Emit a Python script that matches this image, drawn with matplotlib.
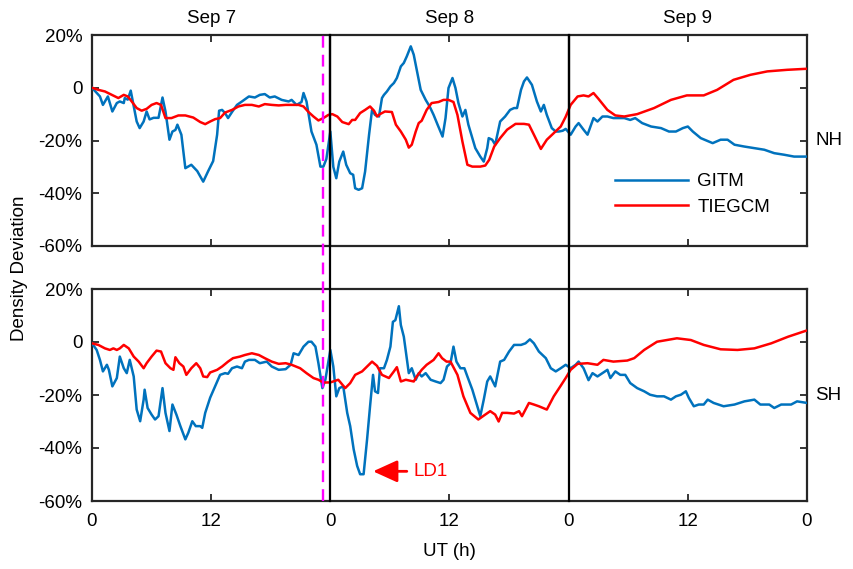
import numpy as np
import matplotlib
matplotlib.use('Agg')
import matplotlib.pyplot as plt
from matplotlib.transforms import blended_transform_factory

# datos: (UT en horas desde Sep 7 00 UT, desviacion en %)
nh_gitm = np.array([
    (0, 0), (0.8, -3.3), (1.1, -6.5), (1.6, -3.3), (2.05, -9), (2.5, -5.8), (2.8, -5.2), (3.2, -5.8),
    (3.3, -3.9), (3.6, -4.5), (3.9, -1.1), (4.1, -5), (4.5, -12.8), (4.8, -15.3), (5.2, -12.8), (5.5, -9),
    (5.8, -12), (6.2, -11.4), (6.7, -11.4), (7.1, -3.7), (7.4, -9), (7.8, -19.7), (8.1, -16.6), (8.4, -16),
    (8.6, -14), (9.0, -17.8), (9.4, -30.5), (10.0, -29.2), (10.6, -31.6), (11.2, -35.6), (11.7, -31.6),
    (12.2, -27.8), (12.6, -17.8), (12.8, -8.7), (13.1, -8.4), (13.4, -9.6), (13.7, -11.5), (14.1, -9.2),
    (14.6, -6.5), (15.1, -5.2), (15.8, -3.3), (16.4, -3.7), (16.9, -2.7), (17.4, -2.4), (17.9, -3.7),
    (18.4, -3.3), (19.1, -4.6), (19.8, -5.2), (20.1, -4.6), (20.6, -6.5), (21.1, -5.4), (21.3, -2),
    (21.6, -5.2), (22.1, -16.6), (22.6, -21.6), (23.0, -29.9), (23.3, -29.9), (23.6, -27), (24.0, -16.6),
    (24.3, -30), (24.6, -34.3), (24.9, -28), (25.3, -24.2), (25.6, -29.2), (26.0, -32.4), (26.3, -33),
    (26.5, -38.1), (26.85, -38.7), (27.2, -38.1), (27.5, -31.8), (27.9, -17.8), (28.2, -8.4), (28.5, -10.3),
    (28.9, -10.9), (29.2, -3.9), (29.4, -2.7), (29.7, -1.4), (30.05, 0.5), (30.4, 1.8), (30.7, 3.7),
    (31.1, 8.1), (31.4, 9.4), (31.7, 11.9), (32.1, 15.7), (32.4, 12.5), (32.8, 4.9), (33.1, -0.8),
    (33.6, -4.6), (34.0, -7.1), (34.4, -10.3), (34.8, -14), (35.3, -18.5), (35.6, -11.5), (35.9, -0.1),
    (36.3, 3.7), (36.6, -0.1), (36.9, -5.8), (37.3, -10.9), (37.6, -8.4), (37.9, -14), (38.3, -19.1),
    (38.6, -22.9), (39.1, -26.1), (39.45, -28), (39.8, -22.9), (39.95, -19.1), (40.3, -19.7), (40.6, -21.6),
    (41.1, -12.8), (41.6, -10.9), (42.1, -8.4), (42.5, -7.7), (42.8, -7.7), (43.2, -0.8), (43.5, 2.4),
    (43.8, 3.9), (44.3, 1.1), (44.8, -5.2), (45.2, -9), (45.5, -6.5), (45.8, -10.3), (46.3, -15.3),
    (46.7, -16.6), (47.0, -16.6), (47.4, -16.3), (47.7, -15.6), (48.2, -17.8), (48.7, -14.7), (49.0, -13.4),
    (49.5, -15.9), (49.9, -17.8), (50.5, -11.5), (50.9, -12.8), (51.4, -10.9), (51.9, -10.9), (52.5, -11.5),
    (53.6, -11.5), (54.2, -12.2), (54.7, -11.5), (55.4, -13.4), (56.3, -14.7), (57.3, -15.3), (58.1, -16.6),
    (58.8, -16.6), (59.5, -15.3), (60.0, -14.7), (60.5, -16.6), (61.3, -19.1), (62.5, -21), (63.3, -19.7),
    (64.0, -19.7), (64.7, -21.6), (65.7, -22.3), (66.7, -22.9), (67.7, -23.5), (68.7, -24.8), (69.7, -25.4),
    (70.7, -26.1), (71.4, -26.1), (72.0, -26.1)])

nh_tiegcm = np.array([
    (0, 0), (0.64, -0.8), (1.3, -1.4), (2.0, -2.7), (2.65, -3.9), (3.2, -2.7), (3.6, -3.3), (4.0, -5.2),
    (4.5, -7.7), (5.0, -8.7), (5.5, -8), (6.0, -6.5), (6.5, -5.8), (6.95, -6.5), (7.4, -11.5), (8.0, -11.5),
    (8.7, -10.5), (9.4, -10.5), (10.2, -11.3), (10.9, -13), (11.4, -13.8), (11.9, -12.8), (12.4, -11.9),
    (12.9, -11.5), (13.4, -9.4), (14.1, -8.4), (14.75, -7.1), (15.4, -6.5), (16.1, -6.5), (16.8, -7.1),
    (17.4, -6.2), (18.1, -6.5), (18.8, -6.7), (19.5, -6.5), (20.1, -6.5), (20.8, -6.5), (21.3, -7.1),
    (21.8, -9.2), (22.3, -10.9), (22.8, -12.4), (23.3, -11.5), (23.8, -10.3), (24.2, -10), (24.7, -10.9),
    (25.2, -13), (25.85, -13.8), (26.2, -12.2), (26.5, -12.2), (27.0, -9.6), (27.5, -8.4), (28.0, -7.1),
    (28.4, -8.7), (28.7, -10.9), (29.0, -10), (29.5, -9), (30.2, -9.2), (30.6, -14), (31.1, -16.6),
    (31.6, -19.7), (31.9, -22.7), (32.2, -21.6), (32.6, -16.6), (32.9, -13.4), (33.2, -12.5), (33.7, -8.4),
    (34.2, -5.8), (34.9, -5.4), (35.4, -4.6), (35.9, -4.6), (36.4, -5.4), (36.8, -10.3), (37.3, -20.4),
    (37.8, -29.2), (38.3, -29.9), (39.1, -29.9), (39.6, -29.5), (40.0, -27.3), (40.5, -22.3), (41.1, -19.1),
    (41.8, -15.9), (42.65, -13.7), (43.5, -13.7), (44.0, -14), (44.5, -17.8), (45.2, -23.2), (45.8, -19.7),
    (46.5, -17.2), (47.2, -14.7), (47.7, -11), (48.2, -6.5), (48.9, -3.3), (49.5, -2.9), (50.0, -3.3),
    (50.5, -2), (51.0, -4.2), (51.9, -8.4), (52.7, -10.5), (53.6, -10.9), (54.9, -10), (56.6, -7.7),
    (58.3, -4.6), (59.9, -2.9), (61.6, -2.9), (62.95, -0.8), (64.6, 3), (66.3, 4.9), (68.0, 6.2),
    (70.0, 6.8), (72.0, 7.2)])

sh_gitm = np.array([
    (0, -0.5), (0.47, -3), (0.8, -6.75), (1.1, -11.1), (1.5, -8.6), (1.7, -10.5), (2.05, -16.75), (2.5, -13.6),
    (2.8, -5.5), (3.2, -9.9), (3.5, -11.75), (3.8, -6.75), (4.2, -13), (4.5, -25.5), (4.85, -29.9),
    (5.2, -21.75), (5.3, -18), (5.6, -24.9), (6.0, -27.4), (6.35, -29.25), (6.7, -28), (7.1, -17.4),
    (7.4, -26.75), (7.8, -33.6), (8.1, -23.6), (8.5, -27.4), (8.9, -31.75), (9.4, -36.75), (9.7, -34.25),
    (10.1, -29.9), (10.45, -31.75), (10.9, -31.75), (11.1, -32.4), (11.4, -26.75), (11.9, -21), (12.4, -16.75),
    (12.9, -12.4), (13.4, -11.75), (13.7, -12), (14.1, -9.9), (14.6, -9.25), (15.1, -9.9), (15.4, -7.4),
    (15.8, -6.75), (16.4, -6.75), (16.9, -8), (17.6, -7.4), (18.1, -9.25), (18.8, -10.5), (19.5, -10.25),
    (20.0, -8.6), (20.3, -4.25), (20.8, -4.9), (21.3, -1.75), (21.8, 0.1), (22.1, 0.1), (22.5, -1.75),
    (22.8, -8), (23.2, -17.4), (23.5, -14.25), (24.0, -3), (24.3, -9.25), (24.6, -20.5), (24.9, -17.4),
    (25.3, -16.75), (25.7, -26.75), (26.0, -31.75), (26.35, -40.5), (26.7, -46.75), (27.0, -49.9),
    (27.35, -49.9), (27.7, -36.75), (28.0, -24.25), (28.3, -12.4), (28.5, -18.6), (28.8, -19.25), (29.0, -9.9),
    (29.4, -9.9), (29.7, -6.75), (30.05, -1.75), (30.3, 7.6), (30.55, 8.25), (30.9, 13.5), (31.1, 6.4),
    (31.4, 2), (31.65, -4.9), (31.9, -11.75), (32.2, -9.9), (32.6, -14.25), (32.9, -11.75), (33.2, -13),
    (33.6, -11.75), (34.1, -14.25), (34.6, -14.9), (35.1, -15.5), (35.4, -14.25), (35.75, -9.25), (36.1, -8),
    (36.4, -1.75), (36.7, -7.4), (37.1, -9.9), (37.5, -9.9), (37.8, -13), (38.3, -18), (38.7, -23),
    (39.1, -28), (39.45, -21.75), (39.8, -14.9), (40.1, -13), (40.6, -16.75), (41.1, -7.4), (41.5, -6.75),
    (42.0, -3.6), (42.5, -1.1), (43.2, -1.1), (43.65, -0.5), (44.1, 1), (44.5, -0.5), (45.0, -3.6),
    (45.7, -6.1), (46.2, -9.9), (46.7, -11.1), (47.2, -9.9), (47.7, -8.6), (48.2, -9.9), (48.7, -8.6),
    (49.0, -7.4), (49.5, -9.9), (50.0, -14.4), (50.4, -11.75), (50.9, -13), (51.4, -11.75), (51.9, -10.5),
    (52.2, -13.6), (52.7, -11.1), (53.2, -12.4), (53.7, -12.4), (54.2, -15.5), (54.9, -17.4), (55.6, -18.6),
    (56.2, -19.9), (56.9, -20.5), (57.6, -20.5), (58.3, -21.75), (58.8, -20.5), (59.3, -19.9), (59.8, -18.6),
    (60.1, -21.1), (60.6, -24.25), (61.1, -23.6), (61.6, -23.6), (62.0, -21.75), (62.6, -23), (63.6, -24.25),
    (64.7, -23.6), (65.7, -22.4), (66.7, -21.75), (67.3, -23.6), (68.2, -23.6), (68.7, -24.9), (69.4, -23.6),
    (70.4, -23.6), (71.0, -22.4), (72.0, -23)])

sh_tiegcm = np.array([
    (0, -0.5), (0.64, -1.1), (1.3, -2.4), (1.8, -3), (2.15, -2.4), (2.5, -3), (2.8, -2.4), (3.2, -1.1),
    (3.7, -2.4), (4.2, -5.5), (4.7, -7.4), (5.2, -9.9), (5.5, -8), (6.0, -5.5), (6.5, -3.25), (6.95, -3.6),
    (7.4, -8), (7.9, -9.9), (8.2, -10.5), (8.4, -5.75), (8.8, -8), (9.2, -9.25), (9.5, -12.4), (10.0, -9.9),
    (10.5, -8), (10.9, -9.9), (11.2, -13), (11.6, -13.25), (11.9, -11.5), (12.6, -10.5), (13.1, -9.25),
    (13.7, -7.4), (14.2, -6.1), (14.9, -5.5), (15.4, -4.9), (16.1, -4.25), (16.8, -4.9), (17.4, -6.1),
    (18.1, -7.4), (18.8, -8.25), (19.5, -8), (20.1, -8.6), (20.96, -9.9), (21.6, -11.75), (22.3, -13.6),
    (22.8, -14.25), (23.3, -15.3), (24.0, -15.25), (24.8, -14.25), (25.5, -17.4), (26.0, -15.5), (26.5, -12.4),
    (27.2, -11.1), (28.2, -7.4), (28.7, -9), (29.2, -12.4), (29.9, -13.6), (30.4, -11.1), (30.7, -9.5),
    (31.1, -14.9), (31.6, -14.25), (32.4, -14.9), (32.7, -13), (33.2, -10.5), (33.7, -8.6), (34.4, -6.75),
    (34.9, -4.25), (35.25, -6.1), (35.7, -7.4), (36.1, -7.4), (36.8, -12.4), (37.4, -20.5), (38.1, -26.75),
    (38.9, -29.25), (39.6, -27.4), (40.1, -26.1), (40.6, -27.4), (40.95, -30), (41.3, -26.75), (41.8, -26.75),
    (42.5, -27), (43.0, -26.1), (43.3, -28), (44.0, -23), (44.5, -23.6), (45.0, -24.25), (45.8, -25.5),
    (46.5, -20.5), (47.2, -16.5), (47.7, -13.6), (48.2, -10.5), (48.9, -8.25), (49.9, -8), (50.9, -8.6),
    (51.5, -6.75), (52.5, -7.4), (53.9, -7), (54.6, -6.1), (55.6, -3), (56.9, 0.1), (57.9, 0.75), (58.9, 1.4),
    (60.3, 0.75), (61.6, -1.1), (63.3, -2.75), (65.0, -3), (66.7, -2.4), (68.4, -0.5), (70.1, 2),
    (71.9, 4.25), (72.0, 4.3)])

days = ['Sep 7', 'Sep 8', 'Sep 9']
xticks = [0, 12, 24, 36, 48, 60, 72]
xticklabels = ['0', '12', '0', '12', '0', '12', '0']
yticks = [-60, -40, -20, 0, 20]
yticklabels = ['-60%', '-40%', '-20%', '0', '20%']
t_storm = 23.3  # linea magenta
ld1 = (28.3, -48.8)

plt.rcParams['font.family'] = ['Liberation Sans', 'DejaVu Sans']
plt.rcParams['font.size'] = 13.5
blue = '#0072BD'
red = '#FF0000'
kcol = '#262626'

fig = plt.figure(figsize=(8.54, 5.69), dpi=100)
W, H = 854, 569
x0, x1 = 92, 807
ax1 = fig.add_axes([x0 / W, 1 - 246 / H, (x1 - x0) / W, (246 - 35) / H])
ax2 = fig.add_axes([x0 / W, 1 - 501 / H, (x1 - x0) / W, (501 - 289) / H])

series = [(ax1, nh_gitm, nh_tiegcm, 'NH'), (ax2, sh_gitm, sh_tiegcm, 'SH')]
for ax, g, tg, lab in series:
    ax.plot(g[:, 0], g[:, 1], color=blue, lw=1.8, label='GITM', zorder=3)
    ax.plot(tg[:, 0], tg[:, 1], color=red, lw=1.8, label='TIEGCM', zorder=4)
    ax.set_xlim(0, 72)
    ax.set_ylim(-60, 20)
    ax.set_xticks(xticks)
    ax.set_yticks(yticks)
    ax.set_yticklabels(yticklabels)
    ax.tick_params(direction='in', length=5, width=1.3, top=True, right=True, color=kcol,
                   labelsize=13.5, pad=7)
    for s in ax.spines.values():
        s.set_linewidth(1.6)
        s.set_color(kcol)
    tr = blended_transform_factory(ax.transAxes, ax.transData)
    ax.text(1.012, -20, lab, transform=tr, ha='left', va='center', fontsize=13.5)

ax1.set_xticklabels([])
ax2.set_xticklabels(xticklabels)
ax2.tick_params(axis='x', pad=9)

# lineas verticales que cruzan ambos paneles
span = (501 - 35) / (501 - 289)
for d in [24, 48]:
    ax2.axvline(d, 0, span, color='k', lw=1.6, clip_on=False, zorder=5)
    ax1.axvline(d, color='k', lw=1.6, zorder=5)
ax2.axvline(t_storm, 0, span, color='#FF00FF', lw=1.7, ls=(0, (5, 3)), clip_on=False, zorder=5)

for i, d in enumerate(days):
    ax1.text(12 + 24 * i, 1.08, d, transform=blended_transform_factory(ax1.transData, ax1.transAxes),
             ha='center', va='center', fontsize=13.5)

leg = ax1.legend(loc='upper left', bbox_to_anchor=((615 - x0) / (x1 - x0), 0.345), frameon=False,
                 handlelength=3.9, handletextpad=0.5, labelspacing=0.45, borderpad=0, borderaxespad=0)

ax2.annotate('LD1', xy=ld1, xytext=(32.4, ld1[1]), color=red, ha='left', va='center', fontsize=13.5,
             arrowprops=dict(arrowstyle='-|>,head_length=1.1,head_width=0.5', color=red, lw=2,
                             shrinkA=3, shrinkB=0))

fig.text(20 / W, 1 - 268 / H, 'Density Deviation', rotation=90, ha='center', va='center', fontsize=13.5)
fig.text(449 / W, 1 - 551 / H, 'UT (h)', ha='center', va='center', fontsize=13.5)

plt.savefig('out.png', dpi=100)
